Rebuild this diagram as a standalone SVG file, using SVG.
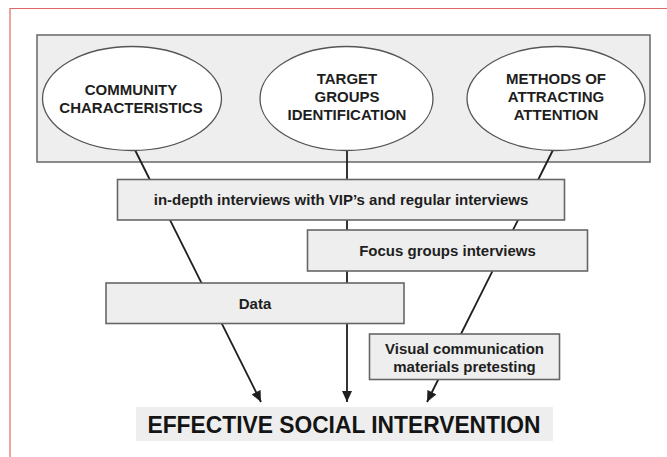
<svg xmlns="http://www.w3.org/2000/svg" width="667" height="457" viewBox="0 0 667 457">
<style>
.frame{fill:none;stroke:#e06868;stroke-width:1.2}
.panel{fill:#eeeeee;stroke:#707070;stroke-width:1.6}
.oval{fill:#ffffff;stroke:#555555;stroke-width:1.3}
.box{fill:#eeeeee;stroke:#666666;stroke-width:1.6}
.conn{fill:none;stroke:#1e1e1e;stroke-width:1.8}
.t{font-family:"Liberation Sans",Arial,sans-serif;font-weight:bold;font-size:15px;fill:#1e1e1e;text-anchor:middle}
.big{font-family:"Liberation Sans",Arial,sans-serif;font-weight:bold;font-size:24px;fill:#141414;text-anchor:middle}
</style>
<defs>
<marker id="arr" markerUnits="userSpaceOnUse" markerWidth="11" markerHeight="10" refX="11" refY="5" orient="auto">
<path d="M0,0 L11,5 L0,10 z" fill="#1e1e1e"/>
</marker>
</defs>
<rect width="667" height="457" fill="#ffffff"/>
<path class="frame" d="M10,457 L10,8.5 L667,8.5"/>
<g id="panel"><rect class="panel" x="37" y="35" width="613" height="127"/></g>
<g id="connectors">
<line class="conn" x1="135" y1="150" x2="261" y2="402" marker-end="url(#arr)"/>
<line class="conn" x1="347" y1="150" x2="347" y2="402" marker-end="url(#arr)"/>
<line class="conn" x1="553" y1="150" x2="427" y2="402" marker-end="url(#arr)"/>
</g>
<g id="community">
<ellipse class="oval" cx="132" cy="98.5" rx="89.5" ry="52"/>
<text class="t" x="131" y="95">COMMUNITY</text>
<text class="t" x="131" y="113">CHARACTERISTICS</text>
</g>
<g id="target">
<ellipse class="oval" cx="346.5" cy="98.5" rx="86.5" ry="52"/>
<text class="t" x="347" y="83.5">TARGET</text>
<text class="t" x="347" y="101.5">GROUPS</text>
<text class="t" x="347" y="120">IDENTIFICATION</text>
</g>
<g id="methods">
<ellipse class="oval" cx="556" cy="98.5" rx="89" ry="52"/>
<text class="t" x="556" y="83.5">METHODS OF</text>
<text class="t" x="556" y="101.5">ATTRACTING</text>
<text class="t" x="556" y="120">ATTENTION</text>
</g>
<g id="interviews">
<rect class="box" x="117.5" y="179.5" width="447" height="40.5"/>
<text class="t" x="341" y="205">in-depth interviews with VIP’s and regular interviews</text>
</g>
<g id="focus">
<rect class="box" x="307.5" y="230" width="280" height="41"/>
<text class="t" x="447.5" y="255.5">Focus groups interviews</text>
</g>
<g id="data">
<rect class="box" x="106" y="283" width="298" height="40.5"/>
<text class="t" x="255" y="308.5">Data</text>
</g>
<g id="visual">
<rect class="box" x="369.5" y="334" width="190" height="45.5"/>
<text class="t" x="464.5" y="353.5">Visual communication</text>
<text class="t" x="464.5" y="371.5">materials pretesting</text>
</g>
<g id="effective">
<rect x="136" y="407" width="417" height="34" fill="#eeeeee"/>
<text class="big" x="344" y="432.5" textLength="393" lengthAdjust="spacingAndGlyphs">EFFECTIVE SOCIAL INTERVENTION</text>
</g>
</svg>
